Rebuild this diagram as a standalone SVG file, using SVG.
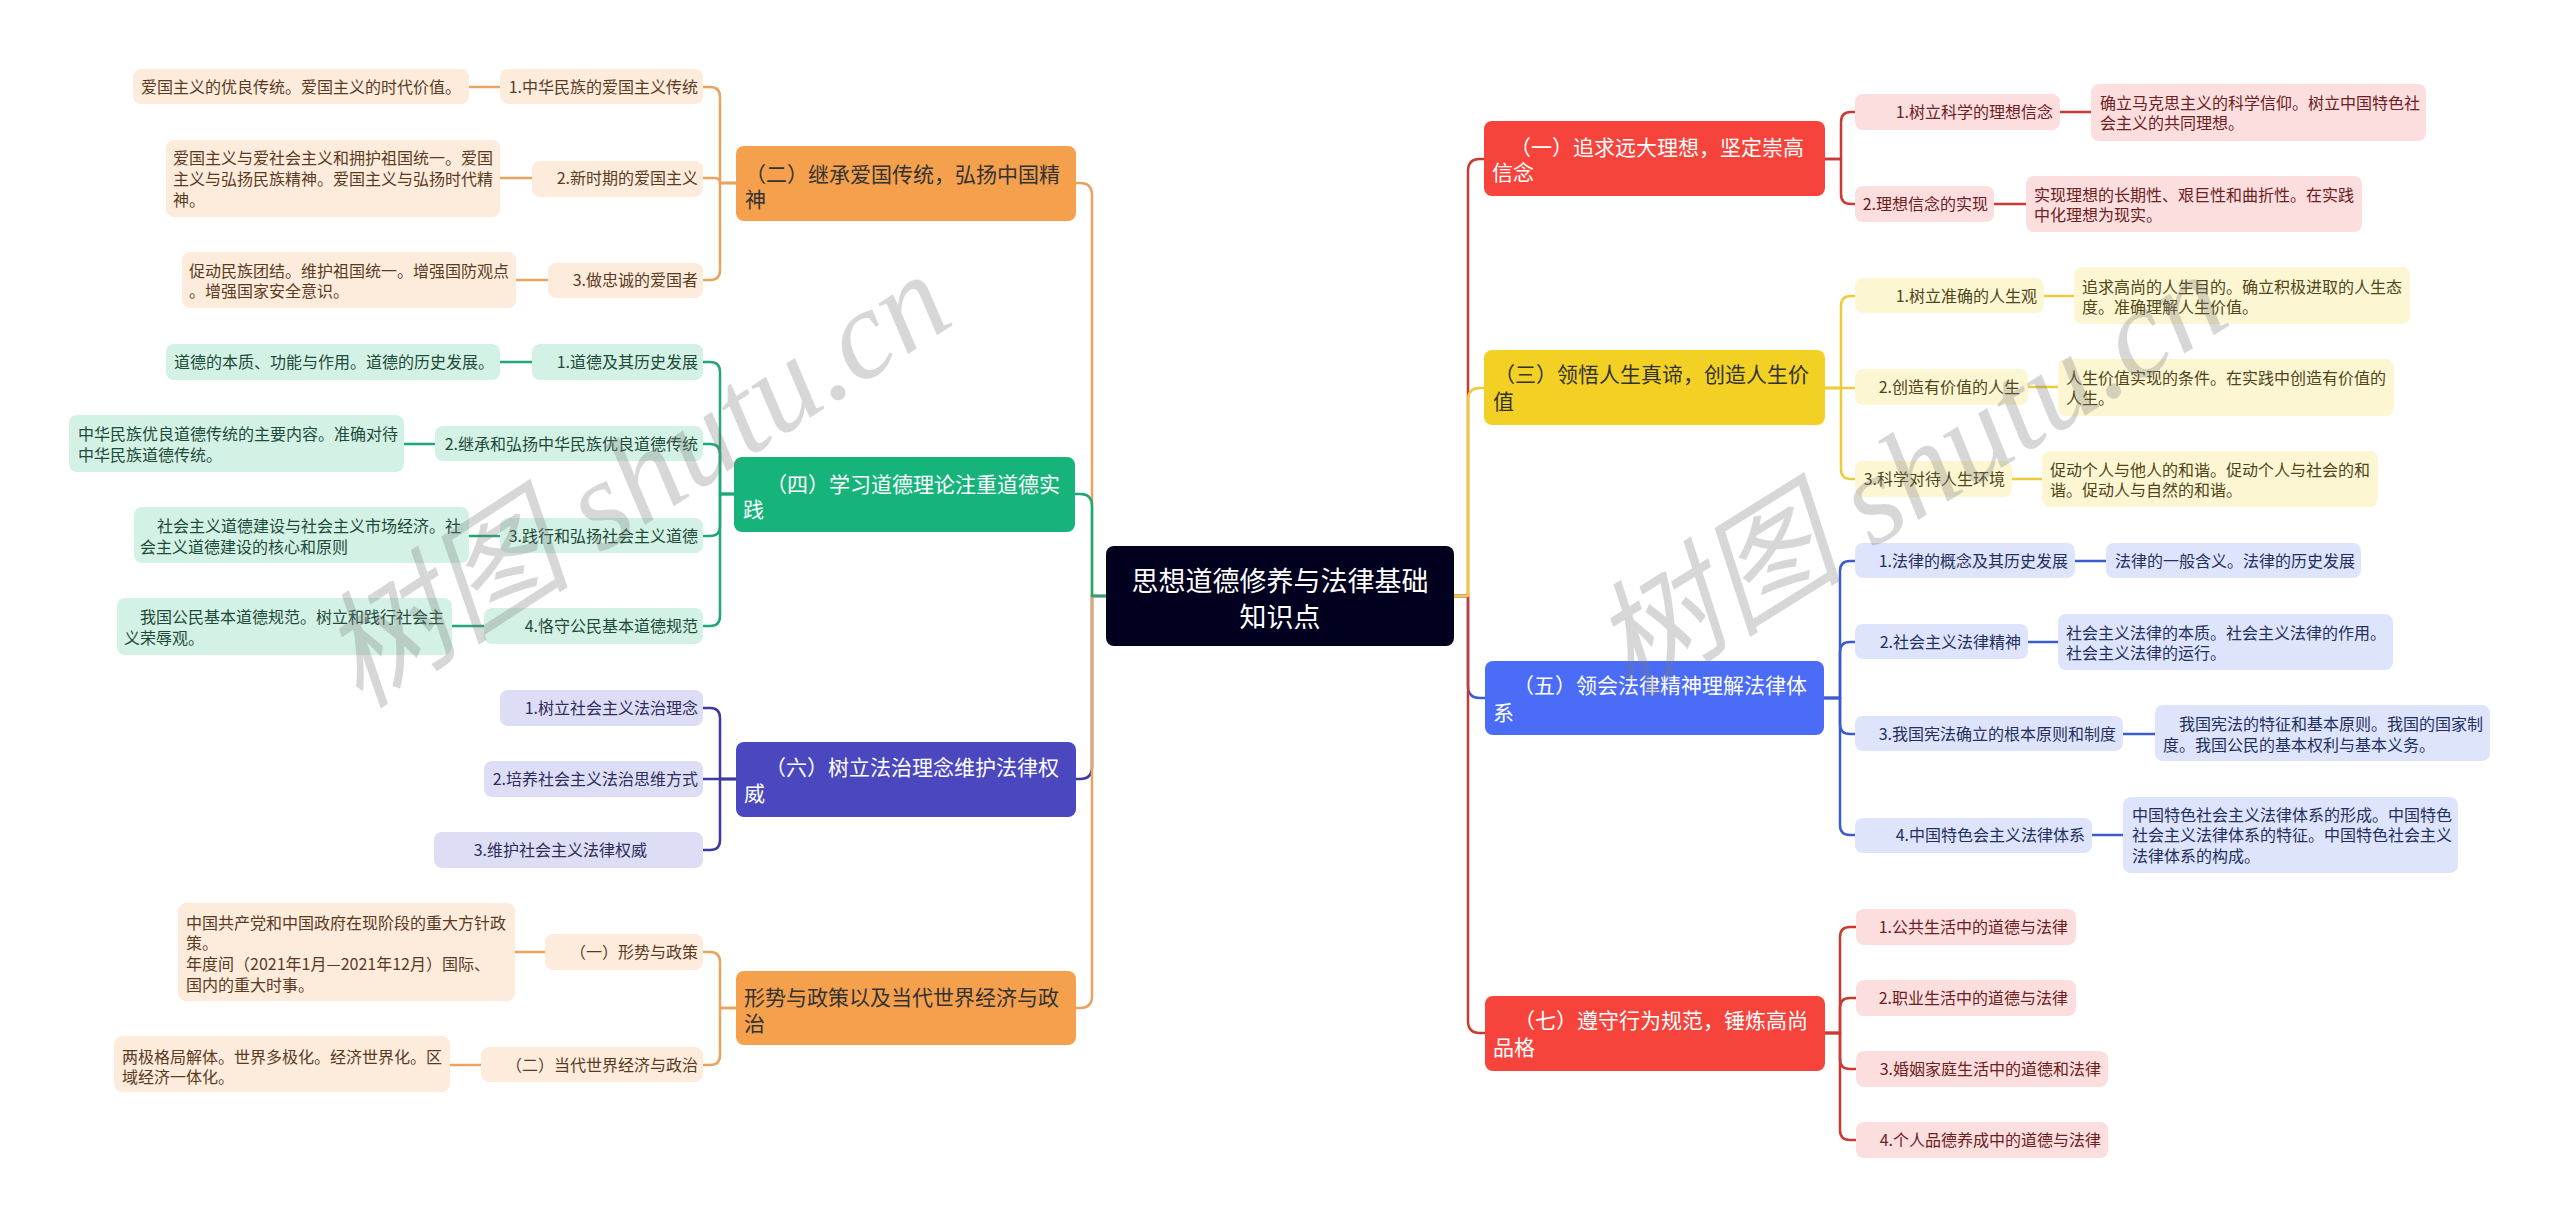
<svg xmlns="http://www.w3.org/2000/svg" width="2560" height="1227" viewBox="0 0 2560 1227">
<style>
text{font-family:"Noto Sans CJK SC","Microsoft YaHei","Liberation Sans",sans-serif;}
.s{font-size:16px}
.m{font-size:21px}
.e{text-anchor:end}
.c{fill:none;stroke-width:2.5;stroke-linecap:round;stroke-linejoin:round}
.k-or{stroke:#E9A25F}.k-gr{stroke:#1FA774}.k-in{stroke:#3C3A9E}.k-rd{stroke:#C93A32}.k-yl{stroke:#EDCB3A}.k-bl{stroke:#3B5BD0}
.M-or{fill:#F5A04D}.M-gr{fill:#16B47A}.M-in{fill:#4B47BE}.M-rd{fill:#F6443C}.M-yl{fill:#F2D124}.M-bl{fill:#4A6CF7}
.L-or{fill:#FDEBDB}.L-gr{fill:#D3F2E5}.L-in{fill:#DDDDF6}.L-rd{fill:#FCDEDE}.L-yl{fill:#FDF6D3}.L-bl{fill:#DDE4FB}
.T-or{fill:#5b3b1f}.T-gr{fill:#1e4a3a}.T-in{fill:#2d2d5a}.T-rd{fill:#6b2121}.T-yl{fill:#4f4518}.T-bl{fill:#23305e}
.wd{fill:#333333}.ww{fill:#ffffff}
.wm{font-family:"Liberation Serif","Noto Sans CJK SC",serif;font-style:italic;font-size:127px;fill:#7a7a7a;fill-opacity:0.3}
</style>
<rect width="2560" height="1227" fill="#ffffff"/>

<g id="connectors">
<path class="c k-in" d="M1106,596 H1092 V767 Q1092,779 1080,779 H1076"/>
<path class="c k-or" d="M1106,596 H1092 V195 Q1092,183 1080,183 H1076"/>
<path class="c k-or" d="M1106,596 H1092 V996 Q1092,1008 1080,1008 H1076"/>
<path class="c k-gr" d="M1106,596 H1092 V506 Q1092,494 1080,494 H1075"/>
<path class="c k-rd" d="M1454,596 H1468 V171 Q1468,159 1480,159 H1484"/>
<path class="c k-bl" d="M1454,596 H1468 V686 Q1468,698 1480,698 H1485"/>
<path class="c k-rd" d="M1454,596 H1468 V1021 Q1468,1033 1480,1033 H1485"/>
<path class="c k-yl" d="M1454,596 H1468 V400 Q1468,388 1480,388 H1484"/>
<path class="c k-or" d="M736,183 H720 V97 Q720,87 710,87 H703"/>
<path class="c k-or" d="M736,183 H720 Q720,178 715,178 H703"/>
<path class="c k-or" d="M736,183 H720 V270 Q720,280 710,280 H703"/>
<path class="c k-or" d="M469,87 H500 M500,178 H532 M516,280 H548"/>
<path class="c k-gr" d="M735,494 H720 V372 Q720,362 710,362 H703"/>
<path class="c k-gr" d="M735,494 H720 V454 Q720,444 710,444 H703"/>
<path class="c k-gr" d="M735,494 H720 V526 Q720,536 710,536 H703"/>
<path class="c k-gr" d="M735,494 H720 V616 Q720,626 710,626 H703"/>
<path class="c k-gr" d="M500,362 H532 M404,444 H435 M469,536 H500 M452,626 H484"/>
<path class="c k-in" d="M736,779 H720 V718 Q720,708 710,708 H703"/>
<path class="c k-in" d="M736,779 H703"/>
<path class="c k-in" d="M736,779 H720 V840 Q720,850 710,850 H703"/>
<path class="c k-or" d="M736,1008 H720 V962 Q720,952 710,952 H703"/>
<path class="c k-or" d="M736,1008 H720 V1055 Q720,1065 710,1065 H703"/>
<path class="c k-or" d="M515,952 H545 M450,1065 H481"/>
<path class="c k-rd" d="M1825,159 H1841 V122 Q1841,112 1851,112 H1855"/>
<path class="c k-rd" d="M1825,159 H1841 V194 Q1841,204 1851,204 H1855"/>
<path class="c k-rd" d="M2060,112 H2091 M1994,204 H2026"/>
<path class="c k-yl" d="M1825,388 H1841 V306 Q1841,296 1851,296 H1855"/>
<path class="c k-yl" d="M1825,388 H1855"/>
<path class="c k-yl" d="M1825,388 H1841 V469 Q1841,479 1851,479 H1855"/>
<path class="c k-yl" d="M2044,296 H2074 M2028,387 H2058 M2012,479 H2042"/>
<path class="c k-bl" d="M1824,698 H1840 V571 Q1840,561 1850,561 H1855"/>
<path class="c k-bl" d="M1824,698 H1840 V652 Q1840,642 1850,642 H1855"/>
<path class="c k-bl" d="M1824,698 H1840 V724 Q1840,734 1850,734 H1855"/>
<path class="c k-bl" d="M1824,698 H1840 V825 Q1840,835 1850,835 H1855"/>
<path class="c k-bl" d="M2075,561 H2106 M2028,642 H2058 M2123,734 H2155 M2092,835 H2123"/>
<path class="c k-rd" d="M1825,1033 H1840 V937 Q1840,927 1850,927 H1856"/>
<path class="c k-rd" d="M1825,1033 H1840 V1008 Q1840,998 1850,998 H1856"/>
<path class="c k-rd" d="M1825,1033 H1840 V1059 Q1840,1069 1850,1069 H1856"/>
<path class="c k-rd" d="M1825,1033 H1840 V1130 Q1840,1140 1850,1140 H1856"/>
</g>

<g id="root">
<rect x="1106" y="546" width="348" height="100" rx="8" fill="#01011F"/>
<text x="1280" y="591" font-size="27" text-anchor="middle" class="ww">思想道德修养与法律基础</text>
<text x="1280" y="627" font-size="27" text-anchor="middle" class="ww">知识点</text>
</g>

<g id="b2"><rect class="M-or" x="736" y="146" width="340" height="75" rx="8"/>
<text class="m wd" x="745" y="182">（二）继承爱国传统，弘扬中国精</text><text class="m wd" x="745" y="207">神</text></g>
<g id="b2s1"><rect class="L-or" x="500" y="69" width="203" height="35" rx="8"/><text class="s e T-or" x="698" y="93">1.中华民族的爱国主义传统</text></g>
<g id="b2l1"><rect class="L-or" x="133" y="69" width="336" height="35" rx="8"/><text class="s T-or" x="141" y="93">爱国主义的优良传统。爱国主义的时代价值。</text></g>
<g id="b2s2"><rect class="L-or" x="532" y="161" width="171" height="36" rx="8"/><text class="s e T-or" x="698" y="184">2.新时期的爱国主义</text></g>
<g id="b2l2"><rect class="L-or" x="166" y="140" width="334" height="77" rx="8"/>
<text class="s T-or" x="173" y="164">爱国主义与爱社会主义和拥护祖国统一。爱国</text><text class="s T-or" x="173" y="185">主义与弘扬民族精神。爱国主义与弘扬时代精</text><text class="s T-or" x="173" y="206">神。</text></g>
<g id="b2s3"><rect class="L-or" x="548" y="263" width="155" height="35" rx="8"/><text class="s e T-or" x="698" y="286">3.做忠诚的爱国者</text></g>
<g id="b2l3"><rect class="L-or" x="182" y="252" width="334" height="56" rx="8"/>
<text class="s T-or" x="189" y="277">促动民族团结。维护祖国统一。增强国防观点</text><text class="s T-or" x="189" y="297">。增强国家安全意识。</text></g>

<g id="b4"><rect class="M-gr" x="734" y="457" width="341" height="75" rx="8"/>
<text class="m ww" x="766" y="492">（四）学习道德理论注重道德实</text><text class="m ww" x="743" y="517">践</text></g>
<g id="b4s1"><rect class="L-gr" x="532" y="344" width="171" height="36" rx="8"/><text class="s e T-gr" x="698" y="368">1.道德及其历史发展</text></g>
<g id="b4l1"><rect class="L-gr" x="166" y="344" width="334" height="36" rx="8"/><text class="s T-gr" x="174" y="368">道德的本质、功能与作用。道德的历史发展。</text></g>
<g id="b4s2"><rect class="L-gr" x="435" y="426" width="268" height="35" rx="8"/><text class="s e T-gr" x="698" y="450">2.继承和弘扬中华民族优良道德传统</text></g>
<g id="b4l2"><rect class="L-gr" x="69" y="415" width="335" height="57" rx="8"/>
<text class="s T-gr" x="78" y="440">中华民族优良道德传统的主要内容。准确对待</text><text class="s T-gr" x="78" y="461">中华民族道德传统。</text></g>
<g id="b4s3"><rect class="L-gr" x="500" y="518" width="203" height="35" rx="8"/><text class="s e T-gr" x="698" y="542">3.践行和弘扬社会主义道德</text></g>
<g id="b4l3"><rect class="L-gr" x="134" y="507" width="335" height="56" rx="8"/>
<text class="s T-gr" x="157" y="532">社会主义道德建设与社会主义市场经济。社</text><text class="s T-gr" x="140" y="553">会主义道德建设的核心和原则</text></g>
<g id="b4s4"><rect class="L-gr" x="484" y="608" width="219" height="36" rx="8"/><text class="s e T-gr" x="698" y="632">4.恪守公民基本道德规范</text></g>
<g id="b4l4"><rect class="L-gr" x="117" y="598" width="335" height="57" rx="8"/>
<text class="s T-gr" x="140" y="623">我国公民基本道德规范。树立和践行社会主</text><text class="s T-gr" x="124" y="644">义荣辱观。</text></g>

<g id="b6"><rect class="M-in" x="736" y="742" width="340" height="75" rx="8"/>
<text class="m ww" x="765" y="775">（六）树立法治理念维护法律权</text><text class="m ww" x="744" y="801">威</text></g>
<g id="b6s1"><rect class="L-in" x="500" y="690" width="203" height="36" rx="8"/><text class="s e T-in" x="698" y="714">1.树立社会主义法治理念</text></g>
<g id="b6s2"><rect class="L-in" x="484" y="761" width="219" height="36" rx="8"/><text class="s e T-in" x="698" y="785">2.培养社会主义法治思维方式</text></g>
<g id="b6s3"><rect class="L-in" x="434" y="832" width="269" height="36" rx="8"/><text class="s e T-in" x="647" y="856">3.维护社会主义法律权威</text></g>

<g id="b8"><rect class="M-or" x="736" y="971" width="340" height="74" rx="8"/>
<text class="m wd" x="744" y="1005">形势与政策以及当代世界经济与政</text><text class="m wd" x="744" y="1031">治</text></g>
<g id="b8s1"><rect class="L-or" x="545" y="934" width="158" height="36" rx="8"/><text class="s e T-or" x="698" y="958">（一）形势与政策</text></g>
<g id="b8l1"><rect class="L-or" x="178" y="903" width="337" height="98" rx="8"/>
<text class="s T-or" x="186" y="929">中国共产党和中国政府在现阶段的重大方针政</text><text class="s T-or" x="186" y="949">策。</text><text class="s T-or" x="186" y="970">年度间（2021年1月—2021年12月）国际、</text><text class="s T-or" x="186" y="991">国内的重大时事。</text></g>
<g id="b8s2"><rect class="L-or" x="481" y="1047" width="222" height="35" rx="8"/><text class="s e T-or" x="698" y="1071">（二）当代世界经济与政治</text></g>
<g id="b8l2"><rect class="L-or" x="114" y="1036" width="336" height="56" rx="8"/>
<text class="s T-or" x="122" y="1063">两极格局解体。世界多极化。经济世界化。区</text><text class="s T-or" x="122" y="1083">域经济一体化。</text></g>

<g id="b1"><rect class="M-rd" x="1484" y="121" width="341" height="75" rx="8"/>
<text class="m ww" x="1510" y="155">（一）追求远大理想，坚定崇高</text><text class="m ww" x="1492" y="180">信念</text></g>
<g id="b1s1"><rect class="L-rd" x="1855" y="94" width="205" height="36" rx="8"/><text class="s e T-rd" x="2053" y="118">1.树立科学的理想信念</text></g>
<g id="b1l1"><rect class="L-rd" x="2091" y="84" width="335" height="57" rx="8"/>
<text class="s T-rd" x="2100" y="109">确立马克思主义的科学信仰。树立中国特色社</text><text class="s T-rd" x="2100" y="129">会主义的共同理想。</text></g>
<g id="b1s2"><rect class="L-rd" x="1855" y="186" width="139" height="36" rx="8"/><text class="s e T-rd" x="1988" y="210">2.理想信念的实现</text></g>
<g id="b1l2"><rect class="L-rd" x="2026" y="176" width="336" height="56" rx="8"/>
<text class="s T-rd" x="2034" y="201">实现理想的长期性、艰巨性和曲折性。在实践</text><text class="s T-rd" x="2034" y="221">中化理想为现实。</text></g>

<g id="b3"><rect class="M-yl" x="1484" y="350" width="341" height="75" rx="8"/>
<text class="m wd" x="1494" y="382">（三）领悟人生真谛，创造人生价</text><text class="m wd" x="1493" y="409">值</text></g>
<g id="b3s1"><rect class="L-yl" x="1855" y="278" width="189" height="35" rx="8"/><text class="s e T-yl" x="2037" y="302">1.树立准确的人生观</text></g>
<g id="b3l1"><rect class="L-yl" x="2074" y="267" width="336" height="57" rx="8"/>
<text class="s T-yl" x="2082" y="293">追求高尚的人生目的。确立积极进取的人生态</text><text class="s T-yl" x="2082" y="313">度。准确理解人生价值。</text></g>
<g id="b3s2"><rect class="L-yl" x="1855" y="369" width="173" height="36" rx="8"/><text class="s e T-yl" x="2020" y="393">2.创造有价值的人生</text></g>
<g id="b3l2"><rect class="L-yl" x="2058" y="359" width="336" height="57" rx="8"/>
<text class="s T-yl" x="2066" y="384">人生价值实现的条件。在实践中创造有价值的</text><text class="s T-yl" x="2066" y="404">人生。</text></g>
<g id="b3s3"><rect class="L-yl" x="1855" y="461" width="157" height="36" rx="8"/><text class="s e T-yl" x="2005" y="485">3.科学对待人生环境</text></g>
<g id="b3l3"><rect class="L-yl" x="2042" y="451" width="336" height="56" rx="8"/>
<text class="s T-yl" x="2050" y="476">促动个人与他人的和谐。促动个人与社会的和</text><text class="s T-yl" x="2050" y="496">谐。促动人与自然的和谐。</text></g>

<g id="b5"><rect class="M-bl" x="1485" y="661" width="339" height="74" rx="8"/>
<text class="m ww" x="1513" y="693">（五）领会法律精神理解法律体</text><text class="m ww" x="1493" y="720">系</text></g>
<g id="b5s1"><rect class="L-bl" x="1855" y="543" width="220" height="35" rx="8"/><text class="s e T-bl" x="2068" y="567">1.法律的概念及其历史发展</text></g>
<g id="b5l1"><rect class="L-bl" x="2106" y="543" width="255" height="35" rx="8"/><text class="s T-bl" x="2115" y="567">法律的一般含义。法律的历史发展</text></g>
<g id="b5s2"><rect class="L-bl" x="1855" y="624" width="173" height="35" rx="8"/><text class="s e T-bl" x="2021" y="648">2.社会主义法律精神</text></g>
<g id="b5l2"><rect class="L-bl" x="2058" y="614" width="335" height="56" rx="8"/>
<text class="s T-bl" x="2066" y="639">社会主义法律的本质。社会主义法律的作用。</text><text class="s T-bl" x="2066" y="659">社会主义法律的运行。</text></g>
<g id="b5s3"><rect class="L-bl" x="1855" y="716" width="268" height="35" rx="8"/><text class="s e T-bl" x="2116" y="740">3.我国宪法确立的根本原则和制度</text></g>
<g id="b5l3"><rect class="L-bl" x="2155" y="705" width="335" height="56" rx="8"/>
<text class="s T-bl" x="2179" y="730">我国宪法的特征和基本原则。我国的国家制</text><text class="s T-bl" x="2163" y="751">度。我国公民的基本权利与基本义务。</text></g>
<g id="b5s4"><rect class="L-bl" x="1855" y="818" width="237" height="35" rx="8"/><text class="s e T-bl" x="2085" y="841">4.中国特色会主义法律体系</text></g>
<g id="b5l4"><rect class="L-bl" x="2123" y="797" width="335" height="76" rx="8"/>
<text class="s T-bl" x="2132" y="821">中国特色社会主义法律体系的形成。中国特色</text><text class="s T-bl" x="2132" y="841">社会主义法律体系的特征。中国特色社会主义</text><text class="s T-bl" x="2132" y="862">法律体系的构成。</text></g>

<g id="b7"><rect class="M-rd" x="1485" y="996" width="340" height="75" rx="8"/>
<text class="m ww" x="1514" y="1028">（七）遵守行为规范，锤炼高尚</text><text class="m ww" x="1493" y="1055">品格</text></g>
<g id="b7s1"><rect class="L-rd" x="1856" y="909" width="220" height="36" rx="8"/><text class="s e T-rd" x="2068" y="933">1.公共生活中的道德与法律</text></g>
<g id="b7s2"><rect class="L-rd" x="1856" y="980" width="220" height="36" rx="8"/><text class="s e T-rd" x="2068" y="1004">2.职业生活中的道德与法律</text></g>
<g id="b7s3"><rect class="L-rd" x="1856" y="1051" width="252" height="36" rx="8"/><text class="s e T-rd" x="2101" y="1075">3.婚姻家庭生活中的道德和法律</text></g>
<g id="b7s4"><rect class="L-rd" x="1856" y="1122" width="252" height="36" rx="8"/><text class="s e T-rd" x="2101" y="1146">4.个人品德养成中的道德与法律</text></g>

<g id="watermark">
<text class="wm" transform="translate(360,710) rotate(-33)">树图 shutu.cn</text>
<text class="wm" transform="translate(1630,700) rotate(-32)">树图 shutu.cn</text>
</g>
</svg>
